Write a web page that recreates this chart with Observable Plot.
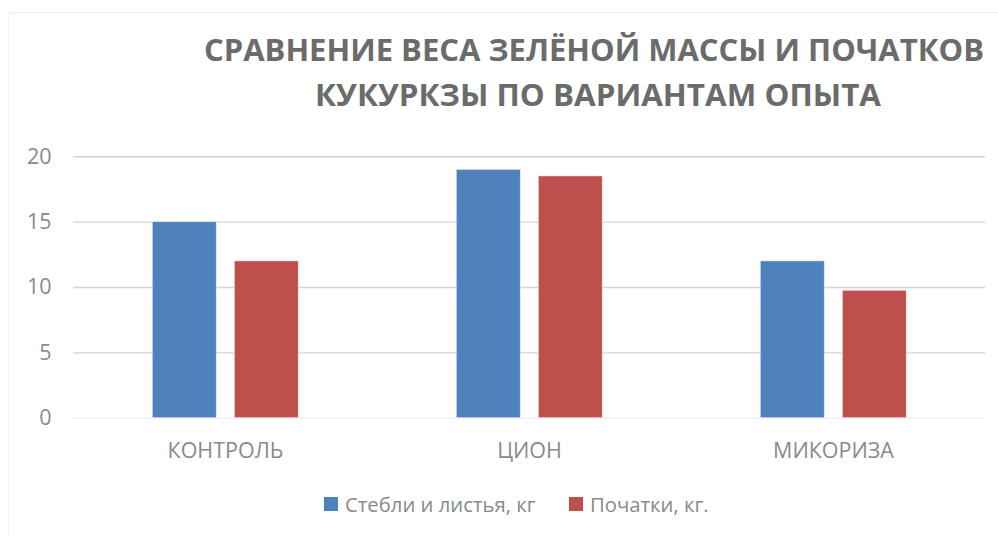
<!DOCTYPE html>
<html>
<head>
<meta charset="utf-8">
<script src="https://cdn.jsdelivr.net/npm/d3@7"></script>
<script src="https://cdn.jsdelivr.net/npm/@observablehq/plot@0.6"></script>
<style>
  html, body { margin: 0; padding: 0; background: #fff; }
  #wrap { position: relative; width: 998px; height: 536px; overflow: hidden; font-family: "Open Sans", sans-serif; }
  #frame { position: absolute; left: 8px; top: 12px; width: 1100px; height: 600px; border: 1px solid #f0f0f0; box-sizing: border-box; }
  .tl { position: absolute; left: 0; white-space: nowrap; font-weight: 700; color: #6b6b6b; font-size: 31px; line-height: 1; transform-origin: 0 0; }
  #chart { position: absolute; left: 0; top: 130px; }
  #legend { position: absolute; top: 492px; left: 0; width: 998px; height: 24px; }
  .li { position: absolute; top: 0; display: flex; align-items: center; height: 24px; font-size: 20.3px; color: #8a8a8a; white-space: nowrap; }
  .sw { width: 14px; height: 14px; margin-right: 7px; display: inline-block; }
</style>
</head>
<body>
<div id="wrap">
  <div id="frame"></div>
  <div id="t1" class="tl">СРАВНЕНИЕ ВЕСА ЗЕЛЁНОЙ МАССЫ И ПОЧАТКОВ</div>
  <div id="t2" class="tl">КУКУРКЗЫ ПО ВАРИАНТАМ ОПЫТА</div>
  <div id="chart"></div>
  <div id="legend"></div>
</div>
<script>
const categories = ["КОНТРОЛЬ", "ЦИОН", "МИКОРИЗА"];
const seriesNames = ["Стебли и листья, кг", "Початки, кг."];
const stemsValues = [15, 19, 12];
const cobsValues = [12, 18.5, 9.75];
const seriesColors = ["#4f81bd", "#c0504d"];
const yTicks = [0, 5, 10, 15, 20];

const data = [];
categories.forEach((c, i) => {
  data.push({category: c, series: seriesNames[0], value: stemsValues[i]});
  data.push({category: c, series: seriesNames[1], value: cobsValues[i]});
});

const chart = Plot.plot({
  width: 998,
  height: 340,
  marginTop: 26.3,
  marginBottom: 52.3,
  marginLeft: 72.7,
  marginRight: 13,
  style: { fontFamily: "'Open Sans', sans-serif", background: "transparent" },
  fx: { domain: categories, padding: 0, label: null },
  x: { domain: seriesNames, paddingInner: 0.22, paddingOuter: 0.963, axis: null },
  y: { domain: [0, 20], label: null },
  color: { domain: seriesNames, range: seriesColors },
  marks: [
    Plot.gridY(yTicks.filter(d => d > 0), { stroke: "#d4d4d4", strokeOpacity: 1, strokeWidth: 1.4 }),
    Plot.ruleY([0], { stroke: "#f0f0f0", strokeWidth: 1.2 }),
    Plot.axisY(yTicks, { tickSize: 0, tickPadding: 22, fontSize: 21.5, fill: "#8a8a8a", label: null }),
    Plot.axisFx({ anchor: "bottom", tickSize: 0, tickPadding: 25, fontSize: 21.5, fill: "#8a8a8a", label: null }),
    Plot.barY(data, { fx: "category", x: "series", y: "value", fill: "series", stroke: "#ffffff", strokeOpacity: 0.6, strokeWidth: 0.8 })
  ]
});
document.getElementById("chart").appendChild(chart);

// Title positioning: fit each line to measured extents
function placeTitle(id, left, right, capTop) {
  const el = document.getElementById(id);
  const w = el.getBoundingClientRect().width;
  const s = (right - left) / w;
  el.style.left = left + "px";
  el.style.top = (capTop - 31 * 0.27) + "px";
  el.style.transform = `scaleX(${s})`;
}
placeTitle("t1", 204, 984, 42.7);
placeTitle("t2", 315, 881, 87.3);

// Legend
const legend = document.getElementById("legend");
const legendX = [324, 569];
seriesNames.forEach((name, i) => {
  const item = document.createElement("div");
  item.className = "li";
  item.style.left = legendX[i] + "px";
  const sw = document.createElement("span");
  sw.className = "sw";
  sw.style.background = seriesColors[i];
  item.appendChild(sw);
  item.appendChild(document.createTextNode(name));
  legend.appendChild(item);
});
</script>
</body>
</html>
